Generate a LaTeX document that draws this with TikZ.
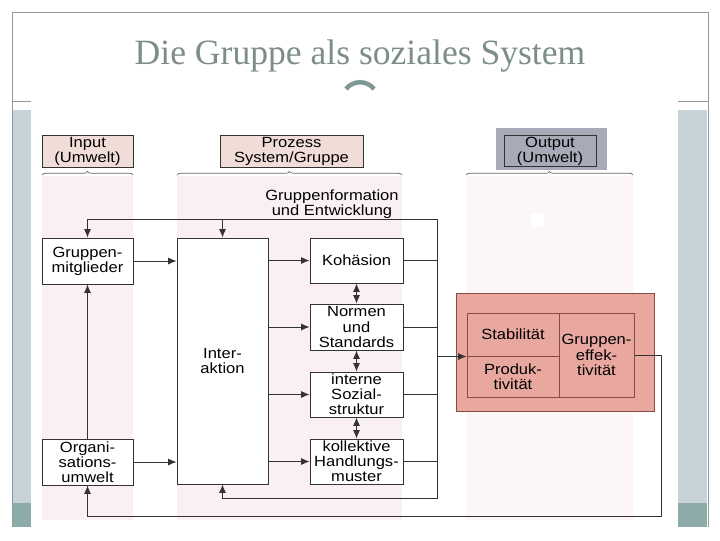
\documentclass[tikz,border=0pt]{standalone}
\usepackage{fontspec}
\setmainfont{Liberation Sans}[FakeStretch=1.12]
\newfontfamily\titlefont{Liberation Serif}
\usetikzlibrary{arrows,arrows.meta,positioning,calc,decorations.pathreplacing}

\definecolor{headpink}{HTML}{F1DDD8}
\definecolor{colpink}{HTML}{FAF0F2}
\definecolor{outgray}{HTML}{A9AAB8}
\definecolor{redfill}{HTML}{E8A89F}
\definecolor{redline}{HTML}{8B4A42}
\definecolor{bandlight}{HTML}{C7D3D9}
\definecolor{banddark}{HTML}{8DABA9}
\definecolor{framegray}{HTML}{8C9C9C}
\definecolor{titlegray}{HTML}{7C8D8B}
\definecolor{arcteal}{HTML}{7E9896}

\begin{document}
\begin{tikzpicture}[x=0.025cm,y=-0.025cm,>={Latex[length=6pt,width=5pt]},
    font=\fontsize{10.5}{10.8}\selectfont,
    sz/.style 2 args={minimum width=#1*0.025cm,minimum height=#2*0.025cm},
    box/.style={draw=black!80,line width=0.7pt,fill=white,align=center,inner sep=1pt},
    head/.style={box,fill=headpink},
    cell/.style={draw=redline,line width=0.7pt,align=center,inner sep=1pt},
    link/.style={draw=black!80,line width=0.6pt},
    brc/.style={draw=black!60,line width=0.5pt,decorate,decoration={brace,amplitude=2.5pt}}]
    \useasboundingbox (0,0) rectangle (720,540);

    % slide frame
    \fill[bandlight] (12,110) rectangle (31,503);
    \fill[banddark] (12,503) rectangle (31,527);
    \fill[bandlight] (678,110) rectangle (707,503);
    \fill[banddark] (678,503) rectangle (707,527);
    \draw[framegray,line width=0.6pt] (12,527) -- (12,12) -- (708,12) -- (708,527);
    \draw[framegray,line width=0.6pt] (12,101) -- (31,101) (678,101) -- (708,101);
    \node[font=\titlefont\fontsize{25.3}{28}\selectfont,text=titlegray] (titel) at (360,56) {Die Gruppe als soziales System};

    % scan area
    \fill[white] (31,92) rectangle (678,528);
    \fill[colpink] (42,176) rectangle (133,520);
    \fill[colpink] (177,176) rectangle (402,520);
    \fill[colpink!60] (466,176) rectangle (633,520);
    \fill[white] (531,214) rectangle (544,227);
    \draw[arcteal,line width=3.2pt] (346,89) .. controls (353,80) and (367,80) .. (374,89);

    % headers
    \node[head,sz={91}{29}] (inp) at (87.5,151.5) {Input\\(Umwelt)};
    \node[head,sz={143}{29}] (proz) at (291.5,151.5) {Prozess\\System/Gruppe};
    \fill[outgray] (496,128) rectangle (607,170);
    \node[box,fill=outgray,sz={92}{30}] (outp) at (550,151) {Output\\(Umwelt)};
    \draw[brc] (42,175) -- (133,175);
    \draw[brc] (177,175) -- (402,175);
    \draw[brc] (466,175) -- (633,175);

    \node[align=center] (entw) at (332,204.5) {Gruppenformation\\und Entwicklung};

    % boxes
    \node[box,sz={91}{46}] (mitgl) at (87.5,261) {Gruppen-\\mitglieder};
    \node[box,sz={91}{46}] (orga) at (87.5,462) {Organi-\\sations-\\umwelt};
    \node[box,sz={91}{246}] (inter) at (222.5,361) {Inter-\\aktion};
    \node[box,sz={93}{45}] (koh) at (356.5,260.5) {Koh\"asion};
    \node[box,sz={93}{46}] (norm) at (356.5,327) {Normen\\und\\Standards};
    \node[box,sz={93}{45}] (sozial) at (356.5,394.5) {interne\\Sozial-\\struktur};
    \node[box,sz={93}{45}] (koll) at (356.5,461.5) {kollektive\\Handlungs-\\muster};

    % output
    \draw[redline,fill=redfill,line width=0.7pt] (456,293) rectangle (654,411);
    \node[cell,sz={92}{43}] (stab) at (513,334.5) {Stabilit\"at};
    \node[cell,sz={92}{41}] (prod) at (513,376.5) {Produk-\\tivit\"at};
    \node[cell,sz={75}{84}] (eff) at (596.5,355) {Gruppen-\\effek-\\tivit\"at};

    % connectors
    \coordinate (tl) at (437,219);
    \coordinate (bl) at (437,498);
    \coordinate (fb) at (661,516);
    \draw[link,->] (tl) -- (mitgl.north |- tl) -- (mitgl.north);
    \draw[link,->] (inter.north |- tl) -- (inter.north);
    \draw[link,->] (tl) -- (bl) -- (inter.south |- bl) -- (inter.south);
    \draw[link,->] (orga.north) -- (mitgl.south);
    \draw[link,->] (mitgl.east) -- (mitgl.east -| inter.west);
    \draw[link,->] (orga.east) -- (orga.east -| inter.west);
    \foreach \b in {koh,norm,sozial,koll} {
        \draw[link,->] (\b.west -| inter.east) -- (\b.west);
        \draw[link] (\b.east) -- (\b.east -| tl);
    }
    \draw[link,<->] (koh.south) -- (norm.north);
    \draw[link,<->] (norm.south) -- (sozial.north);
    \draw[link,<->] (sozial.south) -- (koll.north);
    \draw[link,->] (tl |- stab.south west) -- (stab.south west);
    \draw[link,->] (eff.east) -| (fb) -| (orga.south);
\end{tikzpicture}
\end{document}
